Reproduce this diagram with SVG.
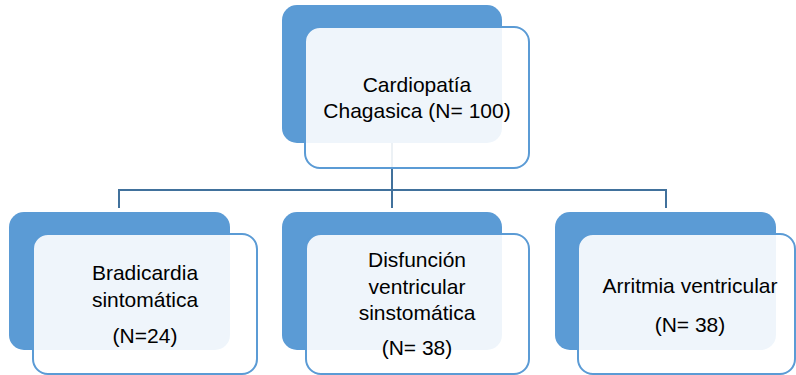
<svg xmlns="http://www.w3.org/2000/svg" width="796" height="375" viewBox="0 0 796 375">
<style>
.back{fill:#5B9BD5;}
.front{fill:#FFFFFF;fill-opacity:0.9;stroke:#5B9BD5;stroke-width:2;}
.conn{fill:none;stroke:#41719C;stroke-width:2;}
.t{font-family:"Liberation Sans",Arial,sans-serif;font-size:21px;fill:#000;text-anchor:middle;}
</style>
<rect width="796" height="375" fill="#FFFFFF"/>
<g id="connectors">
<path class="conn" d="M392,143 V190 M119,208 V190 H666 V208 M392,190 V208"/>
</g>
<g id="root">
<rect class="back" x="282" y="5" width="220" height="138" rx="15"/>
<rect class="front" x="305" y="27" width="224" height="141" rx="15"/>
<text class="t" x="417" y="92">Cardiopatía</text>
<text class="t" x="417" y="118">Chagasica (N= 100)</text>
</g>
<g id="bradicardia">
<rect class="back" x="9" y="212" width="221" height="138" rx="15"/>
<rect class="front" x="33" y="234" width="224" height="140" rx="15"/>
<text class="t" x="145" y="280">Bradicardia</text>
<text class="t" x="145" y="307">sintomática</text>
<text class="t" x="145" y="343">(N=24)</text>
</g>
<g id="disfuncion">
<rect class="back" x="282" y="212" width="220" height="138" rx="15"/>
<rect class="front" x="306" y="234" width="223" height="140" rx="15"/>
<text class="t" x="417" y="267">Disfunción</text>
<text class="t" x="417" y="294">ventricular</text>
<text class="t" x="417" y="320">sinstomática</text>
<text class="t" x="417" y="355">(N= 38)</text>
</g>
<g id="arritmia">
<rect class="back" x="555" y="212" width="221" height="138" rx="15"/>
<rect class="front" x="578" y="234" width="217" height="140" rx="15"/>
<text class="t" x="690" y="293">Arritmia ventricular</text>
<text class="t" x="690" y="332">(N= 38)</text>
</g>
</svg>
